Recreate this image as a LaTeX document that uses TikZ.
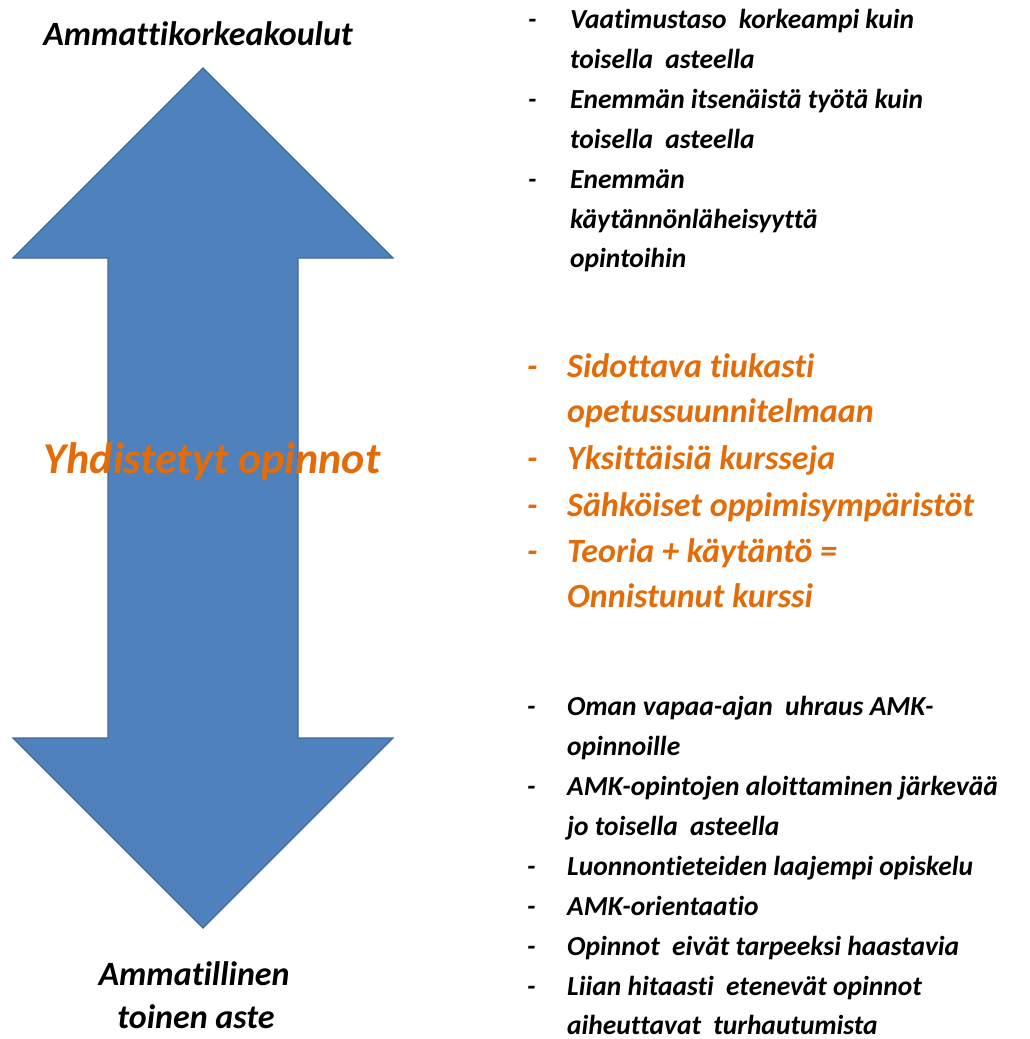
\documentclass[tikz,border=0pt]{standalone}
\usepackage{fontspec}
\setmainfont{Carlito}[Ligatures={NoCommon}]
\definecolor{arrowblue}{HTML}{4F81BD}
\definecolor{arrowedge}{HTML}{3F6A9C}
\definecolor{txtorange}{HTML}{E36C09}
\newcommand{\wsp}{\hspace{6pt}\ }
\begin{document}
\begin{tikzpicture}[x=1pt,y=-1pt,
  lbl/.style={inner sep=0pt,font=\bfseries\itshape},
  blk/.style={lbl,anchor=base west,font=\fontsize{27.5}{32}\selectfont\bfseries\itshape},
  org/.style={lbl,anchor=base west,text=txtorange,font=\fontsize{34}{39}\selectfont\bfseries\itshape},
  title/.style={lbl,anchor=base,font=\fontsize{34}{39}\selectfont\bfseries\itshape}]
\useasboundingbox (0,0) rectangle (1029,1039);
% double arrow
\draw[fill=arrowblue,draw=arrowedge,line width=1.2pt,line join=miter]
  (203,68) -- (393,258) -- (298,258) -- (298,738) -- (393,738) -- (203,928)
  -- (13,738) -- (108,738) -- (108,258) -- (13,258) -- cycle;
% titles
\node[title] (t1) at (198,45) {Ammattikorkeakoulut};
\node[title] (t2) at (194,985) {Ammatillinen};
\node[title] (t3) at (196,1028) {toinen aste};
\node[lbl,anchor=base,text=txtorange,font=\fontsize{44}{49}\selectfont\bfseries\itshape] (mid) at (212,473) {Yhdistetyt opinnot};
% top list
\foreach \y/\n in {28/a1,108/a2,188/a3}{\node[blk] (d\n) at (528,\y) {-};}
\node[blk] (a1) at (570,28) {Vaatimustaso\wsp korkeampi kuin};
\node[blk] (a1b) at (570,68) {toisella\wsp asteella};
\node[blk] (a2) at (570,108) {Enemmän itsenäistä työtä kuin};
\node[blk] (a2b) at (570,148) {toisella\wsp asteella};
\node[blk] (a3) at (570,188) {Enemmän};
\node[blk] (a3b) at (570,228) {käytännönläheisyyttä};
\node[blk] (a3c) at (570,267) {opintoihin};
% orange list
\foreach \y/\n in {377/b1,469/b2,516/b3,562/b4}{\node[org] (d\n) at (527,\y) {-};}
\node[org] (b1) at (567,377) {Sidottava tiukasti};
\node[org] (b1b) at (567,422) {opetussuunnitelmaan};
\node[org] (b2) at (567,469) {Yksittäisiä kursseja};
\node[org] (b3) at (567,516) {Sähköiset oppimisympäristöt};
\node[org] (b4) at (567,562) {Teoria + käytäntö =};
\node[org] (b4b) at (567,607) {Onnistunut kurssi};
% bottom list
\foreach \y/\n in {715/c1,795/c2,875/c3,915/c4,955/c5,995/c6}{\node[blk] (d\n) at (527,\y) {-};}
\node[blk] (c1) at (567,715) {Oman vapaa-ajan\wsp uhraus AMK-};
\node[blk] (c1b) at (567,755) {opinnoille};
\node[blk] (c2) at (567,795) {AMK-opintojen aloittaminen järkevää};
\node[blk] (c2b) at (567,835) {jo toisella\wsp asteella};
\node[blk] (c3) at (567,875) {Luonnontieteiden laajempi opiskelu};
\node[blk] (c4) at (567,915) {AMK-orientaatio};
\node[blk] (c5) at (567,955) {Opinnot\wsp eivät tarpeeksi haastavia};
\node[blk] (c6) at (567,995) {Liian hitaasti\wsp etenevät opinnot};
\node[blk] (c6b) at (567,1034) {aiheuttavat\wsp turhautumista};
\end{tikzpicture}
\end{document}
